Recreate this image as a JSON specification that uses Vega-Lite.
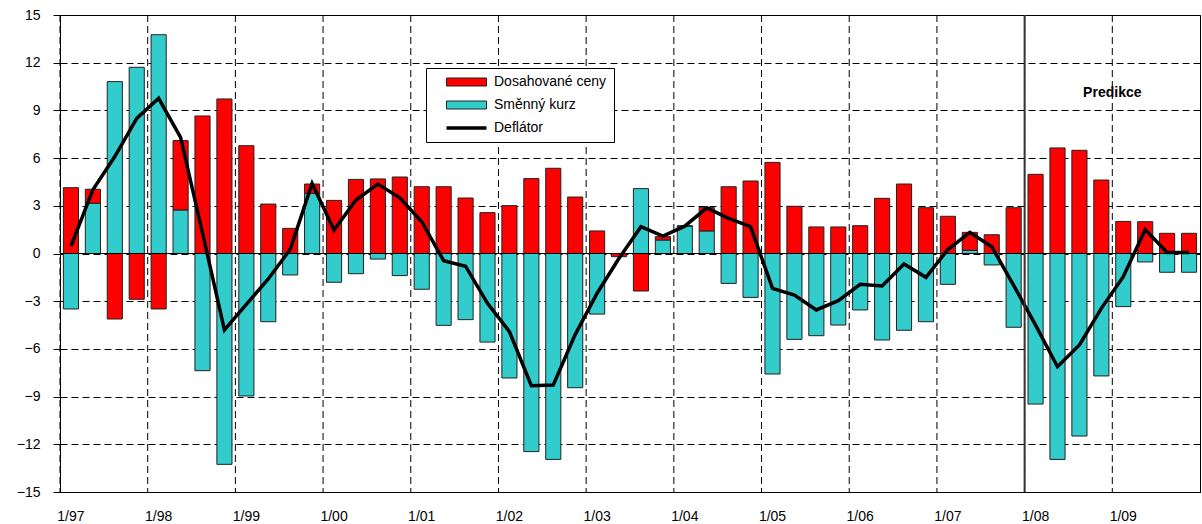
{
  "$schema": "https://vega.github.io/schema/vega-lite/v6.json",
  "width": 1140,
  "height": 477,
  "autosize": {"type": "none"},
  "padding": {"left": 60, "top": 15, "right": 2, "bottom": 32},
  "background": "white",
  "config": {"view": {"stroke": "#000", "strokeWidth": 1}, "font": "Liberation Sans"},
  "data": {"values": [
    {"q": "1/97", "ceny": 4.14, "kurz": -3.49, "defl": 0.47},
    {"q": "2/97", "ceny": 0.88, "kurz": 3.16, "defl": 4.0},
    {"q": "3/97", "ceny": -4.12, "kurz": 10.81, "defl": 6.1},
    {"q": "4/97", "ceny": -2.88, "kurz": 11.71, "defl": 8.5},
    {"q": "1/98", "ceny": -3.49, "kurz": 13.76, "defl": 9.76},
    {"q": "2/98", "ceny": 4.36, "kurz": 2.74, "defl": 7.3},
    {"q": "3/98", "ceny": 8.65, "kurz": -7.37, "defl": 1.3},
    {"q": "4/98", "ceny": 9.72, "kurz": -13.26, "defl": -4.81},
    {"q": "1/99", "ceny": 6.78, "kurz": -8.96, "defl": -3.2},
    {"q": "2/99", "ceny": 3.11, "kurz": -4.29, "defl": -1.6},
    {"q": "3/99", "ceny": 1.58, "kurz": -1.35, "defl": 0.26},
    {"q": "4/99", "ceny": 0.59, "kurz": 3.78, "defl": 4.41},
    {"q": "1/00", "ceny": 3.34, "kurz": -1.81, "defl": 1.48},
    {"q": "2/00", "ceny": 4.66, "kurz": -1.27, "defl": 3.36},
    {"q": "3/00", "ceny": 4.69, "kurz": -0.35, "defl": 4.37},
    {"q": "4/00", "ceny": 4.81, "kurz": -1.39, "defl": 3.5},
    {"q": "1/01", "ceny": 4.2, "kurz": -2.25, "defl": 2.0},
    {"q": "2/01", "ceny": 4.2, "kurz": -4.52, "defl": -0.45},
    {"q": "3/01", "ceny": 3.49, "kurz": -4.16, "defl": -0.8},
    {"q": "4/01", "ceny": 2.57, "kurz": -5.57, "defl": -3.13},
    {"q": "1/02", "ceny": 3.01, "kurz": -7.83, "defl": -4.92},
    {"q": "2/02", "ceny": 4.71, "kurz": -12.46, "defl": -8.31},
    {"q": "3/02", "ceny": 5.36, "kurz": -12.95, "defl": -8.27},
    {"q": "4/02", "ceny": 3.55, "kurz": -8.44, "defl": -5.1},
    {"q": "1/03", "ceny": 1.42, "kurz": -3.81, "defl": -2.5},
    {"q": "2/03", "ceny": -0.2, "kurz": 0.0, "defl": -0.3},
    {"q": "3/03", "ceny": -2.36, "kurz": 4.08, "defl": 1.69},
    {"q": "4/03", "ceny": 0.21, "kurz": 0.85, "defl": 1.1},
    {"q": "1/04", "ceny": 0.0, "kurz": 1.73, "defl": 1.72},
    {"q": "2/04", "ceny": 1.48, "kurz": 1.42, "defl": 2.87},
    {"q": "3/04", "ceny": 4.2, "kurz": -1.88, "defl": 2.21},
    {"q": "4/04", "ceny": 4.56, "kurz": -2.76, "defl": 1.69},
    {"q": "1/05", "ceny": 5.73, "kurz": -7.58, "defl": -2.19},
    {"q": "2/05", "ceny": 2.97, "kurz": -5.4, "defl": -2.61},
    {"q": "3/05", "ceny": 1.67, "kurz": -5.17, "defl": -3.55},
    {"q": "4/05", "ceny": 1.67, "kurz": -4.5, "defl": -2.97},
    {"q": "1/06", "ceny": 1.75, "kurz": -3.55, "defl": -1.94},
    {"q": "2/06", "ceny": 3.47, "kurz": -5.44, "defl": -2.04},
    {"q": "3/06", "ceny": 4.37, "kurz": -4.83, "defl": -0.66},
    {"q": "4/06", "ceny": 2.88, "kurz": -4.29, "defl": -1.5},
    {"q": "1/07", "ceny": 2.34, "kurz": -1.94, "defl": 0.25},
    {"q": "2/07", "ceny": 1.13, "kurz": 0.2, "defl": 1.33},
    {"q": "3/07", "ceny": 1.18, "kurz": -0.72, "defl": 0.43},
    {"q": "4/07", "ceny": 2.88, "kurz": -4.64, "defl": -2.0},
    {"q": "1/08", "ceny": 4.98, "kurz": -9.47, "defl": -4.5},
    {"q": "2/08", "ceny": 6.64, "kurz": -12.95, "defl": -7.12},
    {"q": "3/08", "ceny": 6.49, "kurz": -11.48, "defl": -5.75},
    {"q": "4/08", "ceny": 4.62, "kurz": -7.7, "defl": -3.45},
    {"q": "1/09", "ceny": 2.02, "kurz": -3.34, "defl": -1.46},
    {"q": "2/09", "ceny": 2.0, "kurz": -0.53, "defl": 1.5},
    {"q": "3/09", "ceny": 1.27, "kurz": -1.18, "defl": 0.07},
    {"q": "4/09", "ceny": 1.27, "kurz": -1.18, "defl": 0.07}
  ]},
  "layer": [
    {
      "transform": [{"filter": "indexof(datum.q, '1/') === 0"}],
      "mark": {"type": "rule", "color": "#000", "strokeWidth": 1, "strokeDash": [7, 4]},
      "encoding": {
        "x": {
          "field": "q", "type": "ordinal", "bandPosition": 0,
          "scale": {"domain": ["1/97","2/97","3/97","4/97","1/98","2/98","3/98","4/98","1/99","2/99","3/99","4/99","1/00","2/00","3/00","4/00","1/01","2/01","3/01","4/01","1/02","2/02","3/02","4/02","1/03","2/03","3/03","4/03","1/04","2/04","3/04","4/04","1/05","2/05","3/05","4/05","1/06","2/06","3/06","4/06","1/07","2/07","3/07","4/07","1/08","2/08","3/08","4/08","1/09","2/09","3/09","4/09"], "paddingInner": 0, "paddingOuter": 0},
          "axis": {
            "title": null, "labelAngle": 0, "bandPosition": 0.5,
            "values": ["1/97","1/98","1/99","1/00","1/01","1/02","1/03","1/04","1/05","1/06","1/07","1/08","1/09"],
            "ticks": false, "grid": false,
            "domainColor": "#000", "domainWidth": 1,
            "labelFontSize": 14, "labelPadding": 17, "labelColor": "#000"
          }
        }
      }
    },
    {
      "transform": [{"fold": ["kurz", "ceny"], "as": ["series", "value"]}],
      "mark": {"type": "bar", "stroke": "#222", "strokeWidth": 1, "width": {"band": 0.69}},
      "encoding": {
        "x": {
          "field": "q", "type": "ordinal",
          "axis": {
            "title": null, "labelAngle": 0, "bandPosition": 0.5,
            "values": ["1/97","1/98","1/99","1/00","1/01","1/02","1/03","1/04","1/05","1/06","1/07","1/08","1/09"],
            "ticks": false, "grid": false,
            "domainColor": "#000", "domainWidth": 1,
            "labelFontSize": 14, "labelPadding": 17, "labelColor": "#000"
          }
        },
        "y": {
          "field": "value", "type": "quantitative", "stack": "zero",
          "scale": {"domain": [-15, 15], "nice": false},
          "axis": {
            "title": null,
            "values": [-15, -12, -9, -6, -3, 0, 3, 6, 9, 12, 15],
            "grid": true, "gridDash": [7, 4], "gridColor": "#000", "gridWidth": 1,
            "tickSize": 7, "tickColor": "#000", "domainColor": "#000",
            "labelFontSize": 14, "labelPadding": 13, "labelColor": "#000"
          }
        },
        "order": {"field": "series", "sort": "descending"},
        "color": {
          "field": "series", "type": "nominal",
          "scale": {"domain": ["ceny", "kurz", "defl"], "range": ["#ff0000", "#33cccc", "#000000"]},
          "legend": {
            "title": null, "orient": "none", "legendX": 366, "legendY": 53,
            "fillColor": "#ffffff", "strokeColor": "#000000", "padding": 7,
            "labelFontSize": 14, "labelColor": "#000",
            "labelExpr": "datum.label === 'ceny' ? 'Dosahované ceny' : datum.label === 'kurz' ? 'Směnný kurz' : 'Deflátor'",
            "symbolSize": 100,
            "symbolType": {"expr": "datum.value === 'defl' ? 'M1.3,0H9.3' : 'M1.3,-0.8H9.3V0.8H1.3Z'"},
            "symbolStrokeWidth": {"expr": "datum.value === 'defl' ? 3.5 : 1"},
            "symbolStrokeColor": {"expr": "datum.value === 'defl' ? '#000000' : '#222222'"},
            "labelOffset": 47, "rowPadding": 9
          }
        }
      }
    },
    {
      "mark": {"type": "line", "color": "#000", "strokeWidth": 3.5},
      "encoding": {
        "x": {"field": "q", "type": "ordinal"},
        "y": {"field": "defl", "type": "quantitative"}
      }
    },
    {
      "data": {"values": [{}]},
      "mark": {"type": "rule", "color": "#000", "strokeWidth": 1},
      "encoding": {"y": {"datum": 0, "type": "quantitative"}}
    },
    {
      "data": {"values": [{}]},
      "mark": {"type": "rule", "color": "#333", "strokeWidth": 2},
      "encoding": {"x": {"datum": "1/08", "type": "ordinal", "bandPosition": 0}}
    },
    {
      "data": {"values": [{}]},
      "mark": {"type": "text", "text": "Predikce", "fontWeight": "bold", "fontSize": 14, "color": "#000", "align": "center", "baseline": "middle"},
      "encoding": {
        "x": {"datum": "1/09", "type": "ordinal", "bandPosition": 0},
        "y": {"datum": 10.1, "type": "quantitative"}
      }
    }
  ]
}
